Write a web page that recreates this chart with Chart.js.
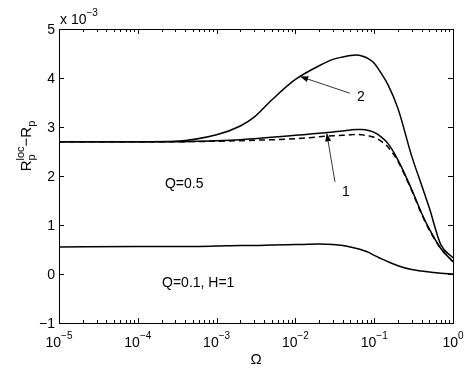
<!DOCTYPE html>
<html>
<head>
<meta charset="utf-8">
<script src="https://cdn.jsdelivr.net/npm/chart.js@4/dist/chart.umd.min.js"></script>
<style>
  body { margin: 0; background: #fff; }
  canvas { display: block; }
</style>
</head>
<body>
<canvas id="chart" width="469" height="371"></canvas>
<script>
// frequency samples (Omega)
const omega = [1e-5, 1e-4, 3e-4, 1e-3, 2e-3, 3e-3, 5e-3, 0.01, 0.02, 0.03, 0.04, 0.05, 0.06, 0.07, 0.085, 0.1, 0.12, 0.15, 0.2, 0.3, 0.4, 0.5, 0.7, 1];

// values in units of 1e-3
const curve2      = [2.70, 2.70, 2.71, 2.84, 3.02, 3.20, 3.55, 3.97, 4.25, 4.38, 4.43, 4.46, 4.47, 4.45, 4.39, 4.30, 4.12, 3.86, 3.38, 2.40, 1.81, 1.35, 0.60, 0.33];
const curve1      = [2.70, 2.70, 2.70, 2.72, 2.74, 2.76, 2.79, 2.83, 2.87, 2.90, 2.92, 2.94, 2.95, 2.95, 2.93, 2.89, 2.81, 2.66, 2.33, 1.72, 1.24, 0.92, 0.52, 0.25];
const curve1dash  = [2.70, 2.70, 2.70, 2.71, 2.72, 2.73, 2.74, 2.76, 2.80, 2.82, 2.83, 2.84, 2.85, 2.84, 2.82, 2.79, 2.72, 2.59, 2.30, 1.70, 1.22, 0.90, 0.52, 0.25];
const curveQ01    = [0.55, 0.56, 0.56, 0.57, 0.58, 0.58, 0.59, 0.60, 0.61, 0.60, 0.58, 0.55, 0.52, 0.49, 0.44, 0.38, 0.32, 0.25, 0.17, 0.09, 0.06, 0.04, 0.015, 0.0];

const xTickExps = [-5, -4, -3, -2, -1, 0];
const yTicks = [-1, 0, 1, 2, 3, 4, 5];

const FONT = '"Liberation Sans", Arial, sans-serif';

function pts(ys) {
    return omega.map((x, i) => ({ x: x, y: ys[i] }));
}

function line(ys, dash) {
    return {
        data: pts(ys),
        borderColor: '#000',
        borderWidth: 1.5,
        borderDash: dash || [],
        pointRadius: 0,
        cubicInterpolationMode: 'monotone',
        fill: false
    };
}

// text pieces with sub/superscripts
function richWidth(ctx, parts) {
    let w = 0;
    parts.forEach(p => {
        ctx.font = p.s + 'px ' + FONT;
        if (!p.stack) w += ctx.measureText(p.t).width;
    });
    return w;
}
function drawRich(ctx, x, y, parts) {
    let cx = x;
    parts.forEach(p => {
        ctx.font = p.s + 'px ' + FONT;
        ctx.fillText(p.t, cx, y + (p.dy || 0));
        if (!p.stack) cx += ctx.measureText(p.t).width;
    });
}

function arrow(ctx, x0, y0, x1, y1) {
    ctx.beginPath();
    ctx.moveTo(x0, y0);
    ctx.lineTo(x1, y1);
    ctx.lineWidth = 0.8;
    ctx.stroke();
    const a = Math.atan2(y1 - y0, x1 - x0);
    const L = 8, W = 3;
    ctx.beginPath();
    ctx.moveTo(x1, y1);
    ctx.lineTo(x1 - L * Math.cos(a) + W * Math.sin(a), y1 - L * Math.sin(a) - W * Math.cos(a));
    ctx.lineTo(x1 - L * Math.cos(a) - W * Math.sin(a), y1 - L * Math.sin(a) + W * Math.cos(a));
    ctx.closePath();
    ctx.fill();
}

const axesPlugin = {
    id: 'matlabAxes',
    afterDraw(chart) {
        const ctx = chart.ctx;
        const a = chart.chartArea;
        const xs = chart.scales.x, ys = chart.scales.y;
        ctx.save();
        ctx.strokeStyle = '#000';
        ctx.fillStyle = '#000';
        ctx.lineWidth = 1;
        ctx.strokeRect(a.left + 0.5, a.top + 0.5, a.right - a.left, a.bottom - a.top);

        // inward ticks on all four sides
        ctx.beginPath();
        xTickExps.forEach(e => {
            for (let m = 1; m <= 9; m++) {
                const v = m * Math.pow(10, e);
                if (v > 1.0001) break;
                const px = Math.round(xs.getPixelForValue(v)) + 0.5;
                const len = m === 1 ? 5 : 3;
                ctx.moveTo(px, a.bottom); ctx.lineTo(px, a.bottom - len);
                ctx.moveTo(px, a.top); ctx.lineTo(px, a.top + len);
            }
        });
        yTicks.forEach(v => {
            const py = Math.round(ys.getPixelForValue(v)) + 0.5;
            ctx.moveTo(a.left, py); ctx.lineTo(a.left + 5, py);
            ctx.moveTo(a.right, py); ctx.lineTo(a.right - 5, py);
        });
        ctx.stroke();

        // x tick labels 10^e
        ctx.textBaseline = 'alphabetic';
        ctx.textAlign = 'left';
        xTickExps.forEach(e => {
            const parts = [{ t: '10', s: 14 }, { t: e === 0 ? '0' : '\u2212' + (-e), s: 10, dy: -8.5 }];
            const w = richWidth(ctx, parts);
            const px = xs.getPixelForValue(Math.pow(10, e));
            drawRich(ctx, px - w / 2, a.bottom + 24, parts);
        });

        // y tick labels
        ctx.font = '14px ' + FONT;
        ctx.textAlign = 'right';
        ctx.textBaseline = 'middle';
        yTicks.forEach(v => {
            const py = ys.getPixelForValue(v);
            ctx.fillText(v < 0 ? '\u2212' + (-v) : String(v), a.left - 4, py + 1);
        });

        // exponent label
        ctx.textAlign = 'left';
        ctx.textBaseline = 'alphabetic';
        drawRich(ctx, a.left + 1, a.top - 5, [{ t: 'x 10', s: 14 }, { t: '\u22123', s: 10, dy: -8.5 }]);

        // x axis title
        ctx.font = '15px ' + FONT;
        ctx.textAlign = 'center';
        ctx.fillText('\u03A9', (a.left + a.right) / 2, 364);

        // y axis title, rotated
        const yParts = [
            { t: 'R', s: 15 },
            { t: 'p', s: 11, dy: 4, stack: true },
            { t: 'loc', s: 11, dy: -7 },
            { t: '\u2212R', s: 15 },
            { t: 'p', s: 11, dy: 4 }
        ];
        ctx.textAlign = 'left';
        const yw = richWidth(ctx, yParts);
        ctx.save();
        ctx.translate(31, 146);
        ctx.rotate(-Math.PI / 2);
        drawRich(ctx, -yw / 2, 0, yParts);
        ctx.restore();

        // annotations, placed in data coordinates
        const P = (x, y) => [xs.getPixelForValue(x), ys.getPixelForValue(y)];
        ctx.font = '14px ' + FONT;
        ctx.textAlign = 'left';
        let t = P(0.049, 3.69), h = P(0.0115, 4.03);
        arrow(ctx, t[0], t[1], h[0], h[1]);
        t = P(0.0318, 1.88); h = P(0.025, 2.87);
        arrow(ctx, t[0], t[1], h[0], h[1]);
        let p = P(0.0605, 3.53); ctx.fillText('2', p[0], p[1]);
        p = P(0.039, 1.59); ctx.fillText('1', p[0], p[1]);
        p = P(2.21e-4, 1.755); ctx.fillText('Q=0.5', p[0], p[1]);
        p = P(2.03e-4, -0.265); ctx.fillText('Q=0.1, H=1', p[0], p[1]);
        ctx.restore();
    }
};

new Chart(document.getElementById('chart'), {
    type: 'line',
    data: {
        datasets: [
            line(curve2),
            line(curve1),
            line(curve1dash, [6, 4]),
            line(curveQ01)
        ]
    },
    options: {
        responsive: false,
        animation: false,
        events: [],
        layout: { padding: { left: 59, right: 16, top: 29, bottom: 48 } },
        plugins: { legend: { display: false }, tooltip: { enabled: false } },
        scales: {
            x: { type: 'logarithmic', min: 1e-5, max: 1, display: false },
            y: { type: 'linear', min: -1, max: 5, display: false }
        }
    },
    plugins: [axesPlugin]
});
</script>
</body>
</html>
